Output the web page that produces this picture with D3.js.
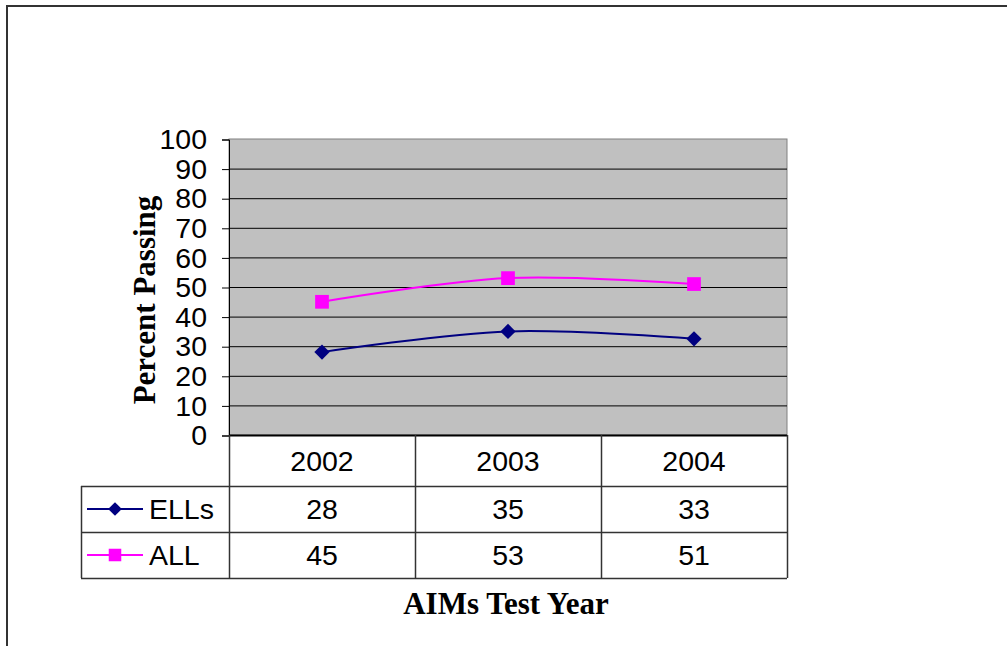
<!DOCTYPE html>
<html>
<head>
<meta charset="utf-8">
<script src="https://cdn.jsdelivr.net/npm/d3@7"></script>
<style>
  body { margin: 0; background: #fff; }
  svg { display: block; }
</style>
</head>
<body>
<div id="chart"></div>
<script>
const years = ['2002', '2003', '2004'];
const ellsValues = [28, 35, 32.5];
const allValues = [45, 53, 51];
const yTicks = [0, 10, 20, 30, 40, 50, 60, 70, 80, 90, 100];

const series = [
  { name: 'ELLs', values: ellsValues, color: '#000080', marker: 'diamond' },
  { name: 'ALL', values: allValues, color: '#ff00ff', marker: 'square' }
];

const width = 1008, height = 646;
const plot = { left: 229, right: 787, top: 139, bottom: 435 };
const rowH = [51, 46, 46]; // category row, then one row per series
const tableLeft = 81;

const svg = d3.select('#chart').append('svg')
  .attr('width', width)
  .attr('height', height);

// outer frame (cut off at the right and bottom)
svg.append('path')
  .attr('d', 'M7,646 V6 H1007')
  .attr('fill', 'none')
  .attr('stroke', '#333')
  .attr('stroke-width', 2);

const x = d3.scaleBand()
  .domain(years)
  .range([plot.left, plot.right]);

const y = d3.scaleLinear()
  .domain([0, 100])
  .range([plot.bottom, plot.top]);

// plot background
svg.append('rect')
  .attr('x', plot.left)
  .attr('y', plot.top)
  .attr('width', plot.right - plot.left)
  .attr('height', plot.bottom - plot.top)
  .attr('fill', '#c0c0c0')
  .attr('stroke', '#808080');

// gridlines
svg.append('g')
  .selectAll('line')
  .data(yTicks.filter(d => d > 0 && d < 100))
  .enter()
  .append('line')
  .attr('x1', plot.left)
  .attr('x2', plot.right)
  .attr('y1', d => y(d) + 0.5)
  .attr('y2', d => y(d) + 0.5)
  .attr('stroke', '#000');

// y axis
const yAxis = svg.append('g')
  .attr('transform', 'translate(' + plot.left + ',0.5)')
  .call(d3.axisLeft(y).tickValues(yTicks).tickSize(7).tickPadding(15));
yAxis.select('.domain').attr('stroke', '#000');
yAxis.selectAll('text')
  .style('font-family', 'Arial, "Liberation Sans", sans-serif')
  .style('font-size', '28.5px')
  .attr('fill', '#000');

// bottom axis line
svg.append('line')
  .attr('x1', plot.left)
  .attr('x2', plot.right)
  .attr('y1', plot.bottom + 0.5)
  .attr('y2', plot.bottom + 0.5)
  .attr('stroke', '#000')
  .attr('stroke-width', 2);

// y title
svg.append('text')
  .attr('transform', 'translate(155,300) rotate(-90)')
  .attr('text-anchor', 'middle')
  .style('font-family', '"Times New Roman", "Liberation Serif", serif')
  .style('font-weight', 'bold')
  .style('font-size', '31px')
  .text('Percent Passing');

// lines and markers
const line = d3.line()
  .x((d, i) => x(years[i]) + x.bandwidth() / 2)
  .y(d => y(d))
  .curve(d3.curveCatmullRom.alpha(0));

const markerPath = (type, big) => type === 'diamond'
  ? d3.symbol().type(d3.symbolDiamond2).size(big ? 150 : 120)()
  : d3.symbol().type(d3.symbolSquare2).size(big ? 240 : 200)();

series.forEach(s => {
  svg.append('path')
    .datum(s.values)
    .attr('d', line)
    .attr('fill', 'none')
    .attr('stroke', s.color)
    .attr('stroke-width', 2);

  svg.append('g')
    .selectAll('path')
    .data(s.values)
    .enter()
    .append('path')
    .attr('transform', (d, i) => 'translate(' + (x(years[i]) + x.bandwidth() / 2) + ',' + y(d) + ')')
    .attr('d', markerPath(s.marker, true))
    .attr('fill', s.color);
});

// data table
const table = svg.append('g');
const rowTop = [plot.bottom, plot.bottom + rowH[0], plot.bottom + rowH[0] + rowH[1]];
const tableBottom = rowTop[2] + rowH[2];
const cellFont = 'Arial, "Liberation Sans", sans-serif';

[rowTop[1], rowTop[2], tableBottom].forEach(yy => {
  table.append('line')
    .attr('x1', tableLeft).attr('x2', plot.right)
    .attr('y1', yy + 0.5).attr('y2', yy + 0.5)
    .attr('stroke', '#333').attr('stroke-width', 1.5);
});

// vertical lines
const colEdges = years.map(d => x(d)).concat([plot.right]);
table.selectAll('line.v')
  .data(colEdges)
  .enter()
  .append('line')
  .attr('class', 'v')
  .attr('x1', d => d + 0.5).attr('x2', d => d + 0.5)
  .attr('y1', plot.bottom).attr('y2', tableBottom)
  .attr('stroke', '#333').attr('stroke-width', 1.5);
table.append('line')
  .attr('x1', tableLeft + 0.5).attr('x2', tableLeft + 0.5)
  .attr('y1', rowTop[1]).attr('y2', tableBottom)
  .attr('stroke', '#333').attr('stroke-width', 1.5);

// category labels
table.selectAll('text.cat')
  .data(years)
  .enter()
  .append('text')
  .attr('class', 'cat')
  .attr('x', d => x(d) + x.bandwidth() / 2)
  .attr('y', rowTop[0] + rowH[0] / 2 + 10)
  .attr('text-anchor', 'middle')
  .style('font-family', cellFont)
  .style('font-size', '28.5px')
  .text(d => d);

// series rows
series.forEach((s, si) => {
  const top = rowTop[si + 1];
  const mid = top + rowH[si + 1] / 2;

  table.append('line')
    .attr('x1', 87).attr('x2', 143)
    .attr('y1', mid).attr('y2', mid)
    .attr('stroke', s.color).attr('stroke-width', 2);
  table.append('path')
    .attr('transform', 'translate(115,' + mid + ')')
    .attr('d', markerPath(s.marker, false))
    .attr('fill', s.color);
  table.append('text')
    .attr('x', 149)
    .attr('y', mid + 10)
    .style('font-family', cellFont)
    .style('font-size', '28.5px')
    .text(s.name);

  table.selectAll('text.v' + si)
    .data(s.values)
    .enter()
    .append('text')
    .attr('x', (d, i) => x(years[i]) + x.bandwidth() / 2)
    .attr('y', mid + 10)
    .attr('text-anchor', 'middle')
    .style('font-family', cellFont)
    .style('font-size', '28.5px')
    .text(d => d3.format('.0f')(d));
});

// x title
svg.append('text')
  .attr('x', 506)
  .attr('y', 614)
  .attr('text-anchor', 'middle')
  .style('font-family', '"Times New Roman", "Liberation Serif", serif')
  .style('font-weight', 'bold')
  .style('font-size', '31px')
  .text('AIMs Test Year');
</script>
</body>
</html>
